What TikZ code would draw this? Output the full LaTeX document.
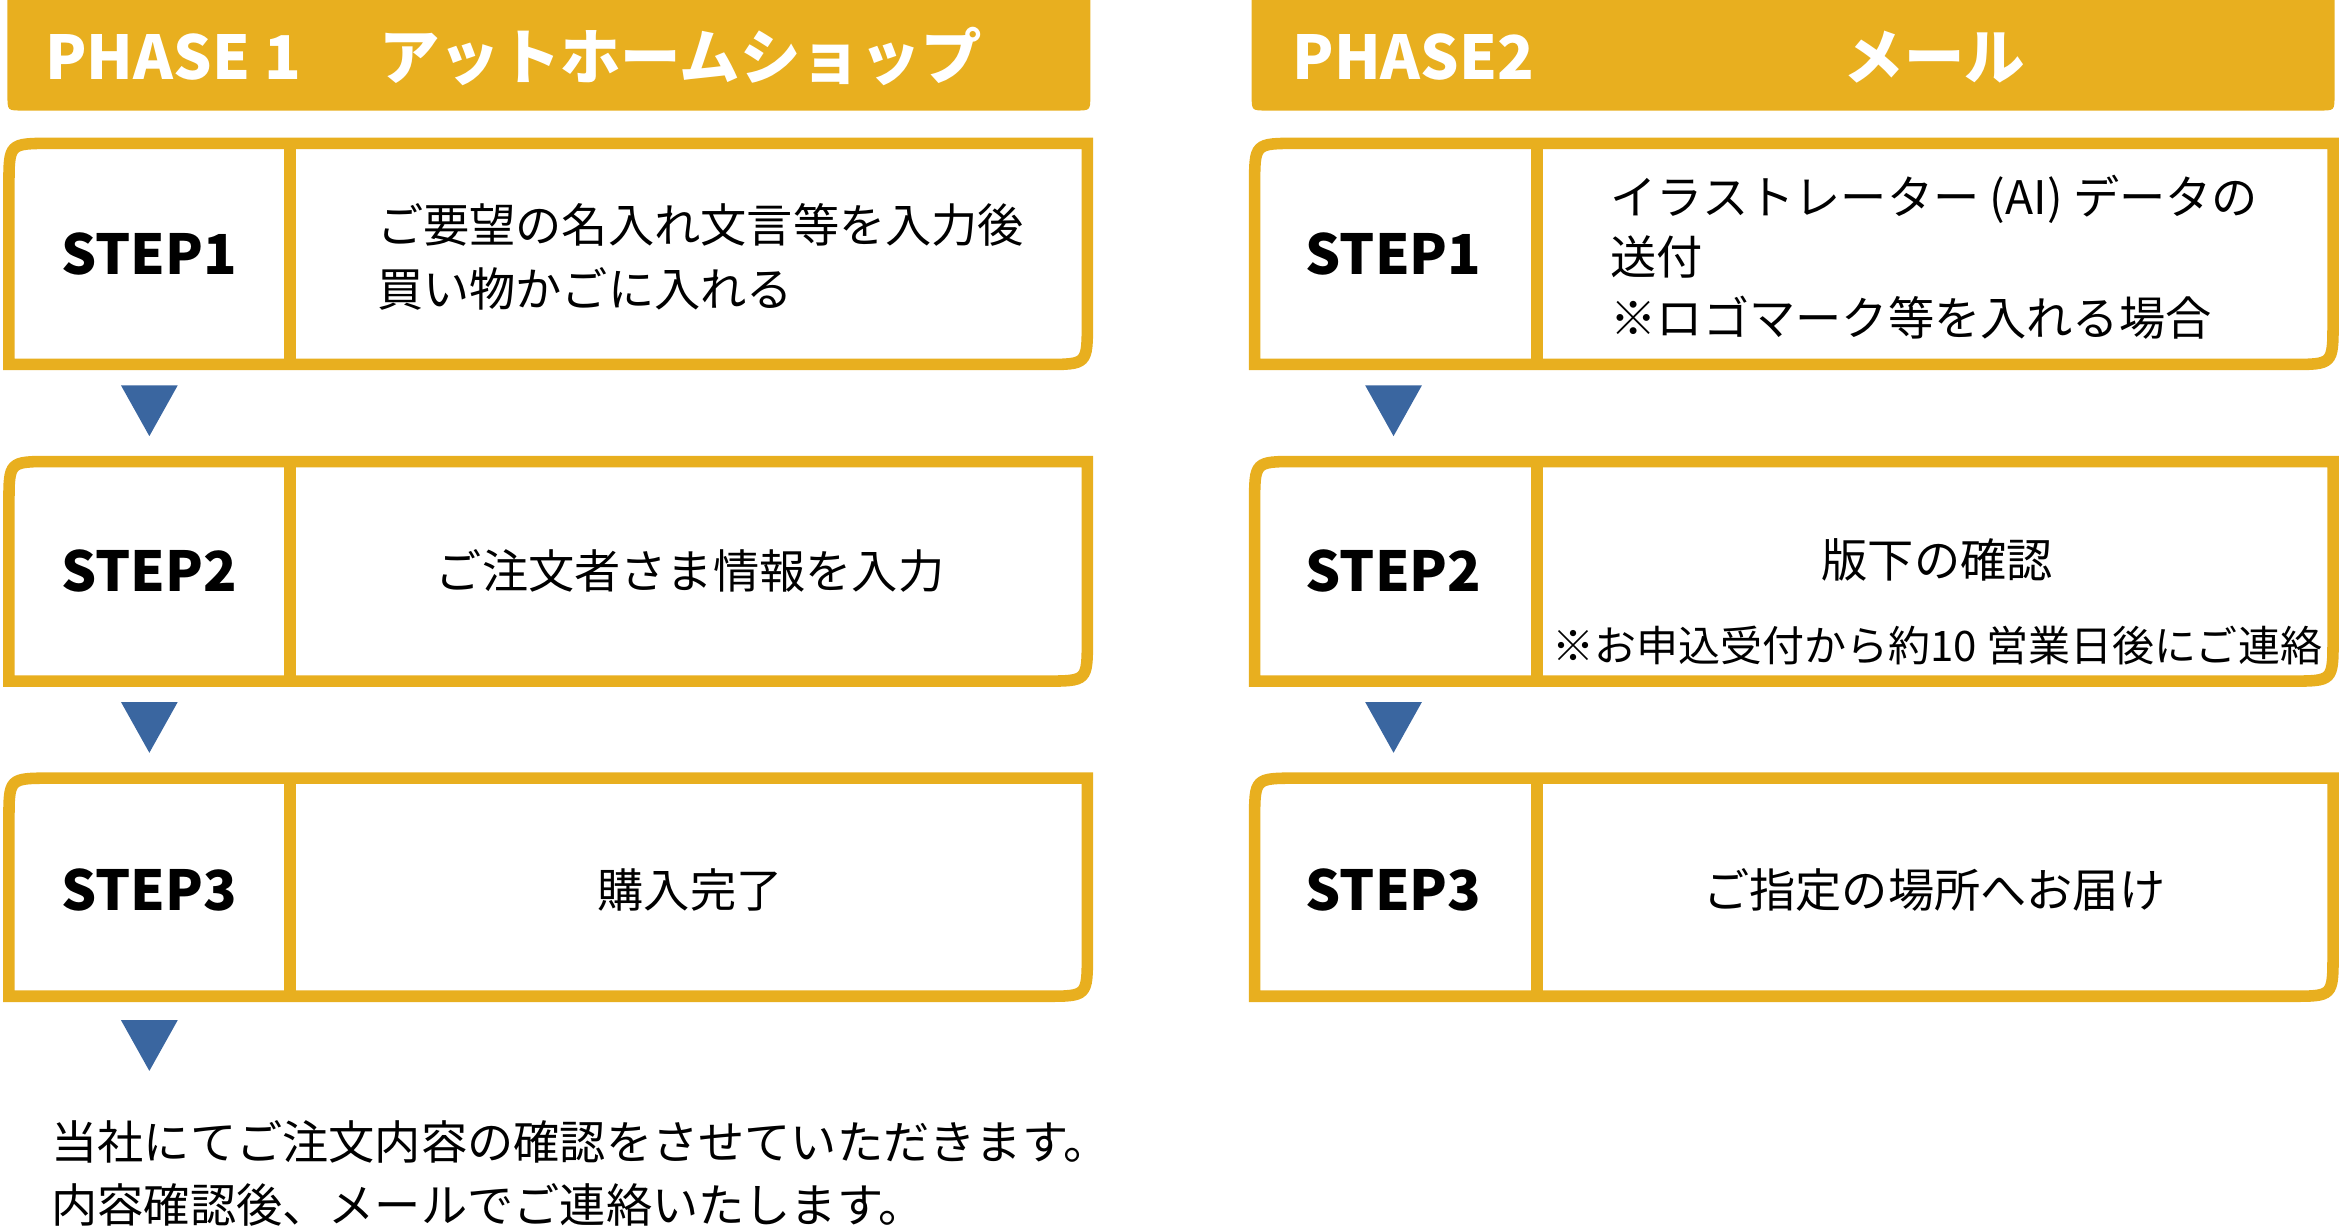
\documentclass[tikz,border=0pt]{standalone}
\usepackage{fontspec}
\setmainfont{Noto Sans CJK JP}
\definecolor{gold}{HTML}{E8AF1F}
\definecolor{ablue}{HTML}{3A66A0}
\begin{document}
\begin{tikzpicture}[x=0.01cm,y=-0.01cm,
 box/.style={draw=gold,line width=2.2pt,fill=white},
 hdr/.style={fill=gold},
 stp/.style={font=\fontsize{10.5}{14}\selectfont\bfseries,text=black},
 txt/.style={font=\fontsize{8.8}{12}\selectfont,align=left},
 ctxt/.style={font=\fontsize{8.8}{12}\selectfont,align=center},
 htxt/.style={font=\fontsize{11.5}{14}\selectfont\bfseries,text=white,anchor=west},
 tri/.style={fill=ablue}]
\useasboundingbox (0,0) rectangle (1568,824);
% headers
\fill[hdr] (5,0) -- (730,0) -- (730,64) .. controls (730,74) .. (720,74) -- (15,74) .. controls (5,74) .. (5,64) -- cycle;
\fill[hdr] (838,0) -- (1563,0) -- (1563,64) .. controls (1563,74) .. (1553,74) -- (848,74) .. controls (838,74) .. (838,64) -- cycle;
\node[htxt] (h1) at (18,38) {PHASE 1\hspace{1.3em}アットホームショップ};
\node[htxt] (h2) at (853,38) {PHASE2};
\node[htxt,anchor=center] (h2b) at (1295,38) {メール};
% boxes
\foreach \xa/\xb/\xd in {6/728/194, 840/1562/1029}{
 \foreach \ya/\yb in {96/244, 309/456, 521/667}{
  \draw[box] (\xa,\yb) -- (\xa,\ya+28) .. controls (\xa,\ya) .. (\xa+28,\ya) -- (\xb,\ya) -- (\xb,\yb-28) .. controls (\xb,\yb) .. (\xb-28,\yb) -- cycle;
  \draw[gold,line width=2.2pt] (\xd,\ya) -- (\xd,\yb);
 }}
% step labels
\node[stp] (l1) at (100,170) {STEP1};
\node[stp] (l2) at (100,382) {STEP2};
\node[stp] (l3) at (100,596) {STEP3};
\node[stp] (r1) at (933,170) {STEP1};
\node[stp] (r2) at (933,382) {STEP2};
\node[stp] (r3) at (933,596) {STEP3};
\node[txt,anchor=west] (t1) at (240,172) {ご要望の名入れ文言等を入力後\\買い物かごに入れる};
\node[ctxt] (t2) at (462,382) {ご注文者さま情報を入力};
\node[ctxt] (t3) at (462,596) {購入完了};
\node[txt,anchor=west,font=\fontsize{8.8}{11.5}\selectfont] (u1) at (1066,172) {イラストレーター (AI) データの\\送付\\※ロゴマーク等を入れる場合};
\node[ctxt] (u2) at (1297,403) {版下の確認\\[4pt]{\fontsize{8}{11}\selectfont ※お申込受付から約10 営業日後にご連絡}};
\node[ctxt] (u3) at (1295,596) {ご指定の場所へお届け};
% arrows
\foreach \x in {100,933}{
 \foreach \y in {258,470}{\fill[tri] (\x-19,\y) -- (\x+19,\y) -- (\x,\y+34) -- cycle;}}
\fill[tri] (81,683) -- (119,683) -- (100,717) -- cycle;
\node[txt,anchor=north west] (bt) at (22,738) {当社にてご注文内容の確認をさせていただきます。\\内容確認後、メールでご連絡いたします。};
\end{tikzpicture}
\end{document}
